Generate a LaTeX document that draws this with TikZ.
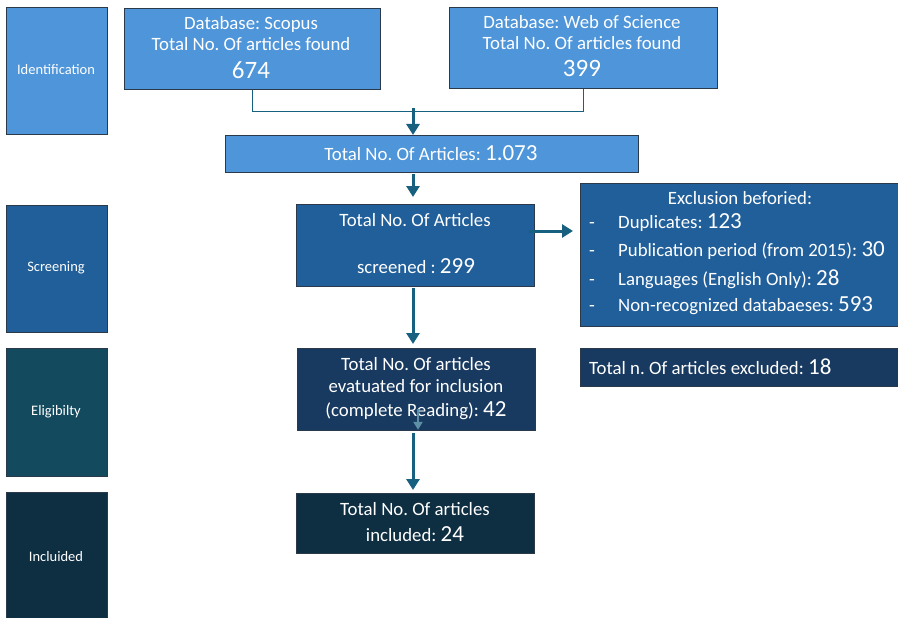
\documentclass[tikz,border=0pt]{standalone}
\usepackage{fontspec}
\setmainfont{Carlito}
\usetikzlibrary{arrows.meta}
\definecolor{lb}{HTML}{4E95D9}
\definecolor{mb}{HTML}{215F9A}
\definecolor{el}{HTML}{134A5E}
\definecolor{elb}{HTML}{193A60}
\definecolor{inc}{HTML}{0E2E42}
\definecolor{arr}{HTML}{17607F}
\definecolor{edge}{HTML}{2B3A4A}
\newcommand{\bn}[1]{{\fontsize{23}{25}\selectfont #1}}
\begin{document}
\frenchspacing
\begin{tikzpicture}[x=1pt,y=-1pt,
  box/.style={draw=edge, line width=0.8pt, inner sep=0pt, anchor=north west},
  lbl/.style={text=white, font=\fontsize{14.5}{16}\selectfont, inner sep=0pt},
  txt/.style={text=white, font=\fontsize{18.8}{20}\selectfont, inner sep=0pt},
  big/.style={font=\fontsize{25}{27}\selectfont},
  arrow/.style={draw=arr, line width=3pt, -{Triangle[length=11pt,width=13pt]}},
  conn/.style={draw=arr, line width=1.8pt}]
\useasboundingbox (0,0) rectangle (898,618);
% stage labels
\node[box, fill=lb, minimum width=101, minimum height=127] (ident) at (6,7) {};
\node[box, fill=mb, minimum width=101, minimum height=127] (screen) at (6,205) {};
\node[box, fill=el, minimum width=101, minimum height=128] (elig) at (6,348) {};
\node[box, fill=inc, minimum width=101, minimum height=140] (incl) at (6,492) {};
\node[lbl] (identT) at (56,70) {Identification};
\node[lbl] (screenT) at (56,268) {Screening};
\node[lbl] (eligT) at (56,412) {Eligibilty};
\node[lbl] (inclT) at (56,557) {Incluided};
% boxes
\node[box, fill=lb, minimum width=256, minimum height=81] (scopus) at (124,8) {};
\node[box, fill=lb, minimum width=268, minimum height=81] (wos) at (449,7) {};
\node[box, fill=lb, minimum width=413, minimum height=37] (tot) at (225,135) {};
\node[box, fill=mb, minimum width=238, minimum height=82] (scr) at (296,204) {};
\node[box, fill=mb, minimum width=320, minimum height=143] (excl) at (580,183) {};
\node[box, fill=elb, minimum width=238, minimum height=82] (eva) at (297,348) {};
\node[box, fill=elb, minimum width=320, minimum height=38] (exc2) at (580,348) {};
\node[box, fill=inc, minimum width=238, minimum height=60] (inc2) at (296,493) {};
% texts
\node[txt] (s1) at (251,24) {Database: Scopus};
\node[txt] (s2) at (251,44) {Total No. Of articles found};
\node[txt, big] (s3) at (251,70) {674};
\node[txt] (w1) at (582,22) {Database: Web of Science};
\node[txt] (w2) at (582,43) {Total No. Of articles found};
\node[txt, big] (w3) at (582,68) {399};
\node[txt] (t1) at (431,153) {Total No. Of Articles: \bn{1.073}};
\node[txt] (r1) at (415,220) {Total No. Of Articles};
\node[txt] (r2) at (416,266) {screened : \bn{299}};
\node[txt] (x0) at (740,198) {Exclusion beforied:};
\node[txt, anchor=west] (x1) at (589,223) {\makebox[29pt][l]{-}Duplicates: \bn{123}};
\node[txt, anchor=west] (x2) at (589,251) {\makebox[29pt][l]{-}Publication period (from 2015): \bn{30}};
\node[txt, anchor=west] (x3) at (589,279) {\makebox[29pt][l]{-}Languages (English Only): \bn{28}};
\node[txt, anchor=west] (x4) at (589,306) {\makebox[29pt][l]{-}Non-recognized databaeses: \bn{593}};
\node[txt, anchor=west] (e0) at (589,367) {Total n. Of articles excluded: \bn{18}};
\node[txt] (v1) at (416,364) {Total No. Of articles};
\node[txt] (v2) at (416,386) {evatuated for inclusion};
\node[txt] (v3) at (416,411) {(complete Reading): \bn{42}};
\node[txt] (i1) at (415,509) {Total No. Of articles};
\node[txt] (i2) at (415,534) {included: \bn{24}};
% connectors
\coordinate (ax) at (413,0);
\coordinate (j1) at (413,108);
\draw[conn] (scopus.south) |- (wos.south |- 0,111.5) -- (wos.south);
\draw[arrow] (j1) -- (tot.north -| ax);
\draw[arrow] (tot.south -| ax) ++(0,1) -- ([yshift=7pt]scr.north -| ax);
\draw[arrow] (scr.south -| ax) ++(0,1) -- ([yshift=4pt]eva.north -| ax);
\draw[arrow] (eva.south -| ax) ++(0,2) -- ([yshift=3pt]inc2.north -| ax);
\draw[arrow] (scr.east |- 0,231) ++(-6,0) -- ([xshift=-7pt]excl.west |- 0,231);
\draw[draw=arr!70!white, line width=2pt, -{Triangle[length=8pt,width=9pt]}] (eva.south -| 418,0) ++(0,-22) coordinate (fa) -- ([yshift=1pt]eva.south -| fa);
\end{tikzpicture}
\end{document}
